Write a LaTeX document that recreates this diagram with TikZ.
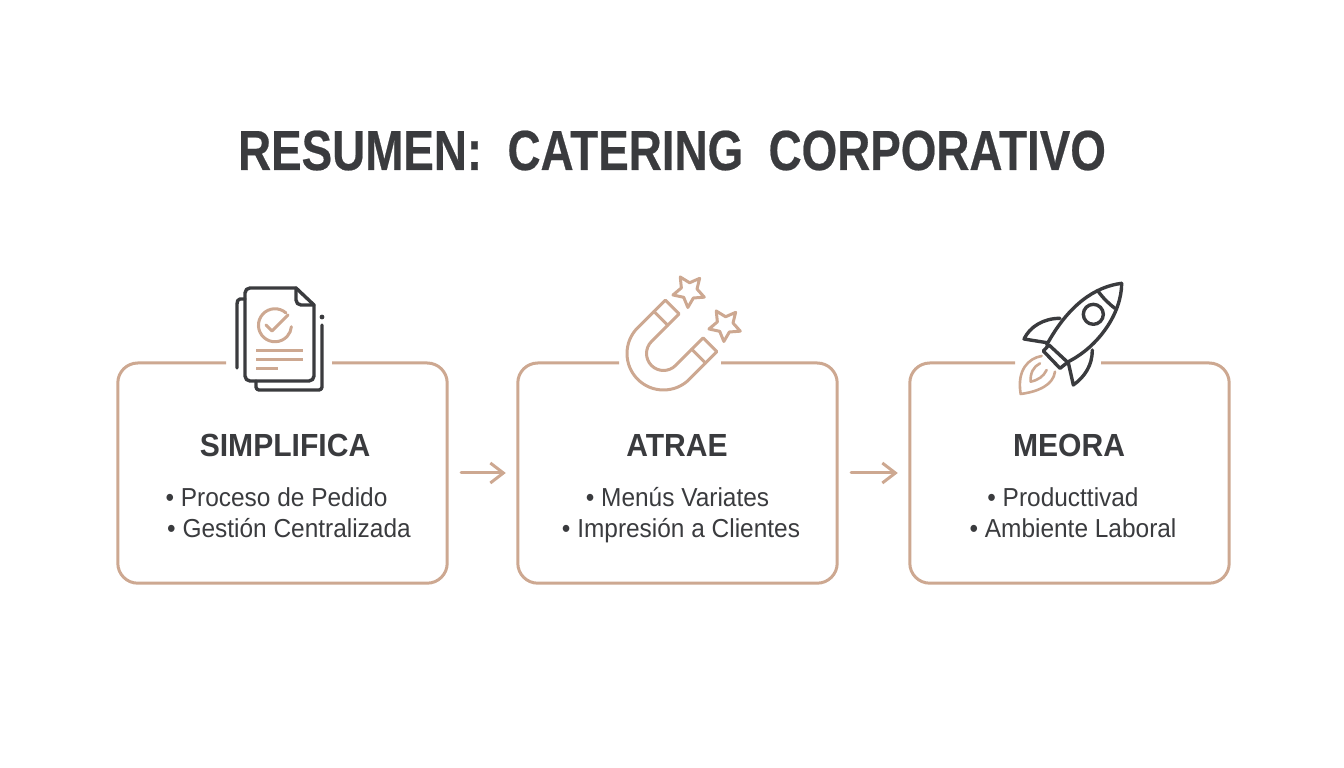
\documentclass[tikz,border=0pt]{standalone}
\usepackage{fontspec}
\setmainfont[FakeStretch=0.94]{Liberation Sans}
\newfontfamily\titlefont[FakeStretch=0.81, BoldFeatures={FakeBold=0.4}]{Liberation Sans}
\usetikzlibrary{arrows.meta,shapes.geometric}
\definecolor{cateringtan}{RGB}{205,168,145}
\definecolor{cateringdark}{RGB}{58,59,62}
\begin{document}
\begin{tikzpicture}[x=1pt, y=1pt,
    panel/.style={rectangle, minimum width=#1, minimum height=220pt},
    frame/.style={cateringtan, line width=3pt, rounded corners=20pt},
    flow/.style={-{Straight Barb[length=13pt,width=20pt]}, cateringtan, line width=3pt, line cap=round, shorten <=14pt, shorten >=12pt},
    heading/.style={font=\fontsize{32}{36}\selectfont\bfseries, text=cateringdark, inner sep=0pt, anchor=base},
    item/.style={font=\fontsize{26}{30}\selectfont, text=cateringdark, inner sep=0pt, anchor=base},
    icondark/.style={cateringdark, line width=3.4pt, line cap=round, line join=round},
    icontan/.style={cateringtan, line width=3pt, line cap=round, line join=round},
    iconstar/.style={star, star points=5, star point ratio=2, draw=cateringtan, line width=3pt, line join=round, minimum size=33pt, inner sep=0pt, rotate=32}]

    \useasboundingbox (0,0) rectangle (1344,768);

    % Title
    \node[font=\titlefont\fontsize{56.5}{60}\selectfont\bfseries, text=cateringdark, inner sep=0pt, anchor=base] (title) at (672,598) {RESUMEN:\ \ CATERING\ \ CORPORATIVO};

    % Panels
    \node[panel=329pt] (simplifica) at (282.5,295) {};
    \node[panel=319pt] (atrae) at (677.5,295) {};
    \node[panel=319pt] (meora) at (1069.5,295) {};

    % Panel frames, open at the top for the icons
    \draw[frame] (226,405) -| (simplifica.west) |- (simplifica.south) -| (simplifica.east) |- (332,405);
    \draw[frame] (619,405) -| (atrae.west) |- (atrae.south) -| (atrae.east) |- (721,405);
    \draw[frame] (1015,405) -| (meora.west) |- (meora.south) -| (meora.east) |- (1101,405);

    % Panel headings
    \node[heading] (h1) at (285,311) {SIMPLIFICA};
    \node[heading] (h2) at (677,311) {ATRAE};
    \node[heading] (h3) at (1069,311) {MEORA};

    % Panel contents
    \node[item] (a1) at (276.5,261) {• Proceso de Pedido};
    \node[item] (a2) at (289,230) {• Gestión Centralizada};
    \node[item] (b1) at (677.5,261) {• Menús Variates};
    \node[item] (b2) at (681,230) {• Impresión a Clientes};
    \node[item] (c1) at (1063,261) {• Producttivad};
    \node[item] (c2) at (1073,230) {• Ambiente Laboral};

    % Flow arrows
    \draw[flow] (simplifica) -- (atrae);
    \draw[flow] (atrae) -- (meora);

    % Document icon
    \draw[icondark] (296,480) -- (250,480) to[out=180,in=90] (245,475) -- (245,392) to[out=-90,in=180] (250,387) -- (309,387) to[out=0,in=-90] (314,392) -- (314,463) -- cycle;
    \draw[icondark] (296,480) -- (296,468) to[out=-90,in=180] (301,463) -- (314,463);
    \draw[icondark] (237,400) -- (237,464) to[out=90,in=180] (240,469) -- (245,469);
    \draw[icondark] (256,387) -- (256,381) to[out=-90,in=180] (259,378) -- (319,378) to[out=0,in=-90] (322,381) -- (322,443);
    \fill[cateringdark] (322,451) circle (2.4pt);
    \draw[icontan] (286,455) arc (48:355:16.5);
    \draw[icontan] (266,443) -- (272,437) -- (288,453);
    \draw[icontan, line cap=butt] (256,417) -- (303,417);
    \draw[icontan, line cap=butt] (256,408) -- (303,408);
    \draw[icontan, line cap=butt] (256,399) -- (278,399);

    % Magnet icon
    \begin{scope}[shift={(663.5,414.5)}, rotate=45]
        \draw[icontan] (39,36.5) -- (0,36.5) arc (90:270:36.5) -- (39,-36.5) -- (39,-17) -- (0,-17) arc (270:90:17) -- (39,17) -- cycle;
        \draw[icontan] (23,17) -- (23,36.5);
        \draw[icontan] (23,-17) -- (23,-36.5);
    \end{scope}
    \node[iconstar] (star1) at (689,477) {};
    \node[iconstar] (star2) at (725,443) {};

    % Rocket icon
    \begin{scope}[shift={(1005,498)}, x=0.3333pt, y=-0.3333pt]
        \draw[icondark] (350,40) .. controls (270,50) and (190,105) .. (125,225);
        \draw[icondark] (350,40) .. controls (350,130) and (280,230) .. (190,275);
        \draw[icondark] (278,62) .. controls (295,85) and (310,100) .. (330,115);
        \draw[icondark] (265,133) circle (10pt);
        \draw[icondark] (115,243) -- (132,225) -- (188,277) -- (165,295) -- cycle;
        \draw[icondark] (165,145) .. controls (115,145) and (75,170) .. (57,207) -- (125,218);
        \draw[icondark] (262,240) .. controls (262,285) and (240,320) .. (205,345) -- (190,278);
        \draw[icontan, line width=2.6pt] (110,258) .. controls (70,265) and (35,300) .. (47,372) .. controls (100,365) and (145,345) .. (150,305);
        \draw[icontan, line width=2.6pt] (105,280) .. controls (85,290) and (75,310) .. (77,335) .. controls (100,330) and (115,320) .. (125,300);
    \end{scope}
\end{tikzpicture}
\end{document}
